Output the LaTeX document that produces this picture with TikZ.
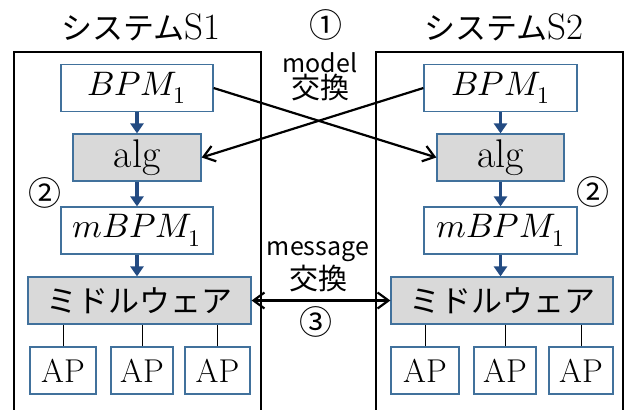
\documentclass[tikz,border=0pt]{standalone}
\usepackage{fontspec}
\usepackage{unicode-math}
\newfontfamily\jpfont{Noto Sans CJK JP}
\usepackage{tikz}
\usetikzlibrary{arrows.meta, positioning, calc}
\definecolor{boxblue}{RGB}{65,113,156}
\definecolor{flowblue}{RGB}{35,75,130}
\definecolor{boxgray}{RGB}{217,217,217}

\tikzset{
  blk/.style={draw=boxblue, line width=1.2pt, inner sep=0pt, minimum height=47pt},
  grayblk/.style={blk, fill=boxgray},
  flow/.style={flowblue, line width=3.5pt, -{Triangle[length=10pt,width=13pt]}},
  xchg/.style={line width=2.2pt},
  frame/.style={line width=1.3pt},
}
\newcommand{\mathsz}{\fontsize{34}{40}\selectfont}
\newcommand{\jpsz}{\jpfont\fontsize{31}{36}\selectfont}
\newcommand{\apsz}{\fontsize{33}{36}\selectfont}
\newcommand{\numsz}{\jpfont\fontsize{33}{36}\selectfont}

\begin{document}
\begin{tikzpicture}[x=1pt, y=-1pt, >={Straight Barb[length=11pt,width=16pt]}]
  \useasboundingbox (0,0) rectangle (625,410);

  % system frames (open at the bottom)
  \draw[frame] (14,410) -- (14,52) -- (261,52) -- (261,410);
  \draw[frame] (376,410) -- (376,52) -- (623,52) -- (623,410);
  \node (titleA) at (141,27) {\jpsz システム{\rmfamily\fontsize{37}{40}\selectfont S1}};
  \node (titleB) at (504,27) {\jpsz システム{\rmfamily\fontsize{37}{40}\selectfont S2}};

  % system S1
  \node[blk, minimum width=152pt] (bpmA) at (137,88) {\mathsz$BPM_1$};
  \node[grayblk, minimum width=128pt] (algA) at (137,157.5) {\fontsize{40}{44}\selectfont alg};
  \node[blk, minimum width=152pt] (mbA) at (137,230.5) {\mathsz$mBPM_1$};
  \node[grayblk, minimum width=223pt] (mwA) at (139.5,300.5) {\jpfont\fontsize{31}{34}\selectfont ミドルウェア};
  \node[blk, minimum width=66pt] (apA1) at (63,370.5) {\apsz AP};
  \node[blk, minimum width=62pt] (apA2) at (142,370.5) {\apsz AP};
  \node[blk, minimum width=65pt] (apA3) at (217.5,370.5) {\apsz AP};

  % system S2
  \node[blk, minimum width=153pt] (bpmB) at (500.5,88) {\mathsz$BPM_1$};
  \node[grayblk, minimum width=127pt] (algB) at (500.5,157.5) {\fontsize{40}{44}\selectfont alg};
  \node[blk, minimum width=153pt] (mbB) at (500.5,230.5) {\mathsz$mBPM_1$};
  \node[grayblk, minimum width=222pt] (mwB) at (502,300.5) {\jpfont\fontsize{31}{34}\selectfont ミドルウェア};
  \node[blk, minimum width=68pt] (apB1) at (425,370.5) {\apsz AP};
  \node[blk, minimum width=62pt] (apB2) at (505,370.5) {\apsz AP};
  \node[blk, minimum width=64pt] (apB3) at (581,370.5) {\apsz AP};

  % inner flow
  \draw[flow] (bpmA) -- (algA);
  \draw[flow] (algA) -- (mbA);
  \draw[flow] (mbA.south) -- (mbA.south |- mwA.north);
  \draw[flow] (bpmB) -- (algB);
  \draw[flow] (algB) -- (mbB);
  \draw[flow] (mbB.south) -- (mbB.south |- mwB.north);
  \foreach \ap in {apA1, apA2, apA3}
    \draw[line width=1pt] (\ap.north) -- (\ap.north |- mwA.south);
  \foreach \ap in {apB1, apB2, apB3}
    \draw[line width=1pt] (\ap.north) -- (\ap.north |- mwB.south);

  % exchanges
  \draw[xchg, ->] (bpmA.east) -- (algB.west);
  \draw[xchg, ->] (bpmB.west) -- (algA.east);
  \draw[xchg, <->] (mwA.east) -- (mwB.west);

  \node (n1) at (326,25) {\numsz ①};
  \node (modelL) at (320,63) {\jpfont\fontsize{25}{28}\selectfont model};
  \node (modelX) at (320,88) {\jpfont\fontsize{29}{30}\selectfont 交換};
  \node (msgL) at (318,252) {\jpfont\fontsize{25}{28}\selectfont message};
  \node (msgX) at (318,279) {\jpfont\fontsize{29}{30}\selectfont 交換};
  \node (n3) at (316,322) {\numsz ③};
  \node (n2A) at (45,193) {\numsz ②};
  \node (n2B) at (593,192) {\numsz ②};
\end{tikzpicture}
\end{document}
